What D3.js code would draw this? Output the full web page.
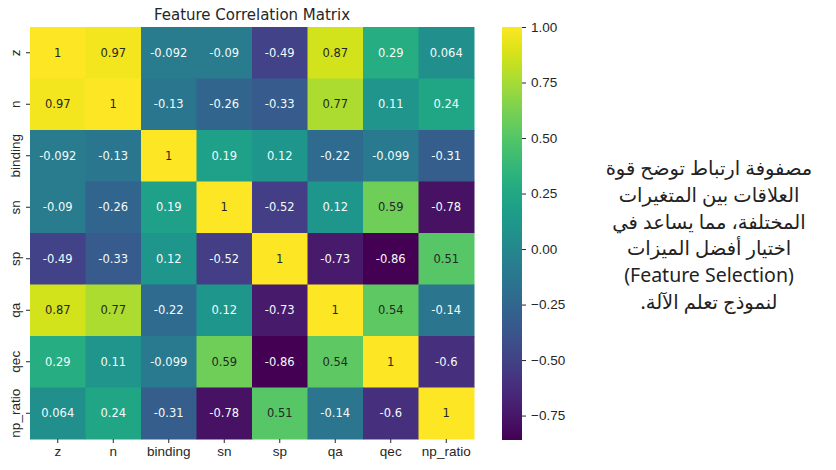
<!DOCTYPE html>
<html>
<head>
<meta charset="utf-8">
<script src="https://cdn.jsdelivr.net/npm/d3@7"></script>
<style>
  body { margin: 0; background: #fff; }
  svg { display: block; font-family: "DejaVu Sans", sans-serif; }
</style>
</head>
<body>
<svg id="chart" width="836" height="470"></svg>
<script>
// features, in row / column order
const features = ["z", "n", "binding", "sn", "sp", "qa", "qec", "np_ratio"];

// correlation matrix rows
const corrZ       = [1, 0.97, -0.092, -0.09, -0.49, 0.87, 0.29, 0.064];
const corrN       = [0.97, 1, -0.13, -0.26, -0.33, 0.77, 0.11, 0.24];
const corrBinding = [-0.092, -0.13, 1, 0.19, 0.12, -0.22, -0.099, -0.31];
const corrSn      = [-0.09, -0.26, 0.19, 1, -0.52, 0.12, 0.59, -0.78];
const corrSp      = [-0.49, -0.33, 0.12, -0.52, 1, -0.73, -0.86, 0.51];
const corrQa      = [0.87, 0.77, -0.22, 0.12, -0.73, 1, 0.54, -0.14];
const corrQec     = [0.29, 0.11, -0.099, 0.59, -0.86, 0.54, 1, -0.6];
const corrNp      = [0.064, 0.24, -0.31, -0.78, 0.51, -0.14, -0.6, 1];
const matrix = [corrZ, corrN, corrBinding, corrSn, corrSp, corrQa, corrQec, corrNp];

const colorTicks = [-0.75, -0.5, -0.25, 0, 0.25, 0.5, 0.75, 1];
const title = "Feature Correlation Matrix";
const noteLines = [
  "مصفوفة ارتباط توضح قوة",
  "العلاقات بين المتغيرات",
  "المختلفة، مما يساعد في",
  "اختيار أفضل الميزات",
  "(Feature Selection)",
  "لنموذج تعلم الآلة."
];

const svg = d3.select("#chart");

// grid area
const gLeft = 30, gTop = 27, gRight = 474, gBottom = 439;

const x = d3.scaleBand().domain(features).range([gLeft, gRight]);
const y = d3.scaleBand().domain(features).range([gTop, gBottom]);

const vmin = d3.min(matrix.flat()), vmax = d3.max(matrix.flat());
const color = d3.scaleSequential(d3.interpolateViridis).domain([vmin, vmax]);

const cells = [];
matrix.forEach((row, i) => row.forEach((v, j) => cells.push({ r: features[i], c: features[j], v: v })));

svg.append("g")
  .selectAll("rect")
  .data(cells)
  .join("rect")
    .attr("x", d => x(d.c))
    .attr("y", d => y(d.r))
    .attr("width", x.bandwidth() + 0.5)
    .attr("height", y.bandwidth() + 0.5)
    .attr("fill", d => color(d.v));

// text colour like seaborn: dark on light cells, white on dark ones
function lum(c) {
  const rgb = d3.rgb(c);
  const f = u => { u /= 255; return u <= 0.03928 ? u / 12.92 : Math.pow((u + 0.055) / 1.055, 2.4); };
  return 0.2126 * f(rgb.r) + 0.7152 * f(rgb.g) + 0.0722 * f(rgb.b);
}

svg.append("g")
  .attr("text-anchor", "middle")
  .style("font-size", "11.5px")
  .selectAll("text")
  .data(cells)
  .join("text")
    .attr("x", d => x(d.c) + x.bandwidth() / 2)
    .attr("y", d => y(d.r) + y.bandwidth() / 2)
    .attr("dy", "0.35em")
    .attr("fill", d => lum(color(d.v)) > 0.408 ? "#262626" : "#f4fbfb")
    .text(d => String(d.v));

// axes
const xAxis = svg.append("g")
  .attr("transform", `translate(0,${gBottom})`)
  .call(d3.axisBottom(x).tickSize(4).tickPadding(3));
xAxis.select(".domain").remove();
xAxis.selectAll("text").style("font-size", "13.5px").attr("fill", "#262626");
xAxis.selectAll("line").attr("stroke", "#262626");

const yAxis = svg.append("g")
  .attr("transform", `translate(${gLeft},0)`)
  .call(d3.axisLeft(y).tickSize(4).tickPadding(3));
yAxis.select(".domain").remove();
yAxis.selectAll("line").attr("stroke", "#262626");
yAxis.selectAll("text")
  .style("font-size", "13.5px")
  .attr("fill", "#262626")
  .attr("text-anchor", "middle")
  .attr("x", 0).attr("dy", 0)
  .attr("transform", "translate(-10,0) rotate(-90)");

svg.append("text")
  .attr("x", (gLeft + gRight) / 2)
  .attr("y", 20)
  .attr("text-anchor", "middle")
  .style("font-size", "15px")
  .attr("fill", "#262626")
  .text(title);

// colour bar
const cbX = 502, cbW = 20;
const cbScale = d3.scaleLinear().domain([vmin, vmax]).range([gBottom + 1, gTop]);
const defs = svg.append("defs");
const grad = defs.append("linearGradient")
  .attr("id", "cb").attr("x1", 0).attr("y1", 1).attr("x2", 0).attr("y2", 0);
d3.range(0, 1.0001, 0.05).forEach(t => {
  grad.append("stop").attr("offset", t).attr("stop-color", d3.interpolateViridis(t));
});
svg.append("rect")
  .attr("x", cbX).attr("y", gTop)
  .attr("width", cbW).attr("height", gBottom + 1 - gTop)
  .attr("fill", "url(#cb)");

const cbAxis = svg.append("g")
  .attr("transform", `translate(${cbX + cbW},0)`)
  .call(d3.axisRight(cbScale).tickValues(colorTicks).tickSize(4).tickPadding(5)
    .tickFormat(d => d3.format(".2f")(d).replace("-", "\u2212")));
cbAxis.select(".domain").remove();
cbAxis.selectAll("text").style("font-size", "13.5px").attr("fill", "#262626");
cbAxis.selectAll("line").attr("stroke", "#262626");

// arabic note on the right
svg.append("g")
  .attr("text-anchor", "middle")
  .style("font-family", "'Noto Sans', 'DejaVu Sans', sans-serif")
  .style("font-size", "19.5px")
  .attr("fill", "#222")
  .selectAll("text")
  .data(noteLines)
  .join("text")
    .attr("direction", (d, i) => i === 4 ? "ltr" : "rtl")
    .attr("x", 709)
    .attr("y", (d, i) => 175 + i * 26.8)
    .text(d => d);
</script>
</body>
</html>
